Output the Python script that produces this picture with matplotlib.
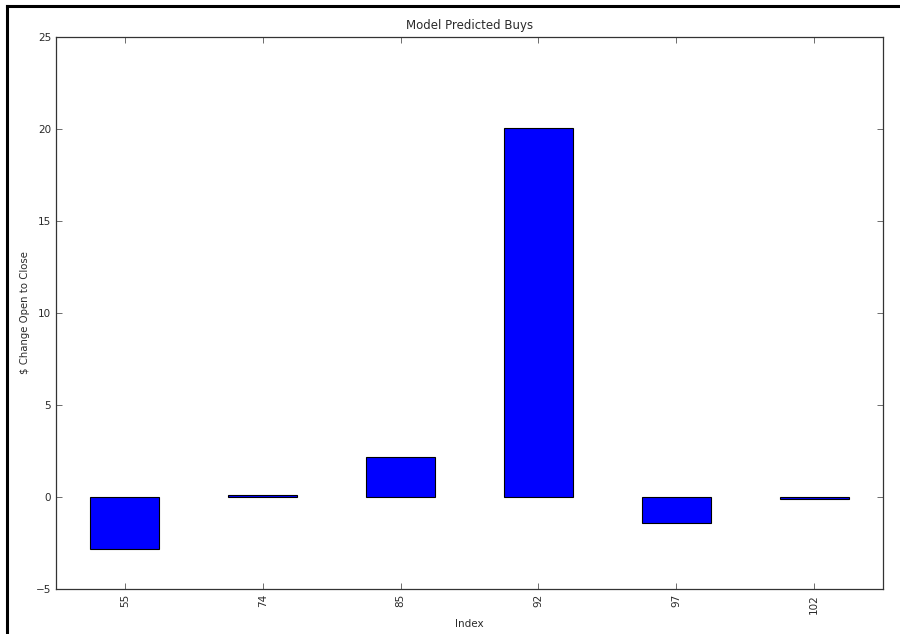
import matplotlib.pyplot as plt
from matplotlib.lines import Line2D
import numpy as np

index_labels = ['55', '74', '85', '92', '97', '102']
change = [-2.8, 0.1, 2.15, 20.05, -1.42, -0.12]

txt = '#2a2a2a'
fig = plt.figure(figsize=(9, 6.34), dpi=100, facecolor='white')
ax = fig.add_axes([56 / 900, 1 - 589 / 634, (883 - 56) / 900, (589 - 37) / 634])

x = np.arange(len(change))
ax.bar(x, change, width=0.5, color='blue', edgecolor='black', linewidth=0.8)
ax.set_xlim(-0.5, len(change) - 0.5)
ax.set_ylim(-5, 25)
ax.set_xticks(x)
ax.set_xticklabels(index_labels, rotation=90, fontsize=7.5, color=txt)
ax.set_yticks(np.arange(-5, 26, 5))
ax.tick_params(axis='y', labelsize=7.5, labelcolor=txt)
ax.tick_params(direction='in', length=4, width=0.6, top=True, right=True, color='#555555')
for s in ax.spines.values():
    s.set_linewidth(0.9)
    s.set_color('#333333')
ax.set_title('Model Predicted Buys', fontsize=8.5, pad=6, color=txt)
ax.set_xlabel('Index', fontsize=7.5, color=txt)
ax.set_ylabel('$ Change Open to Close', fontsize=7.3, color=txt)

# black screenshot frame on top and left
fig.add_artist(Line2D([7 / 900, 1], [1 - 6 / 634, 1 - 6 / 634], color='black', linewidth=2.2))
fig.add_artist(Line2D([7 / 900, 7 / 900], [0, 1 - 6 / 634], color='black', linewidth=2.2))

fig.savefig('out.png', dpi=100, facecolor='white')
